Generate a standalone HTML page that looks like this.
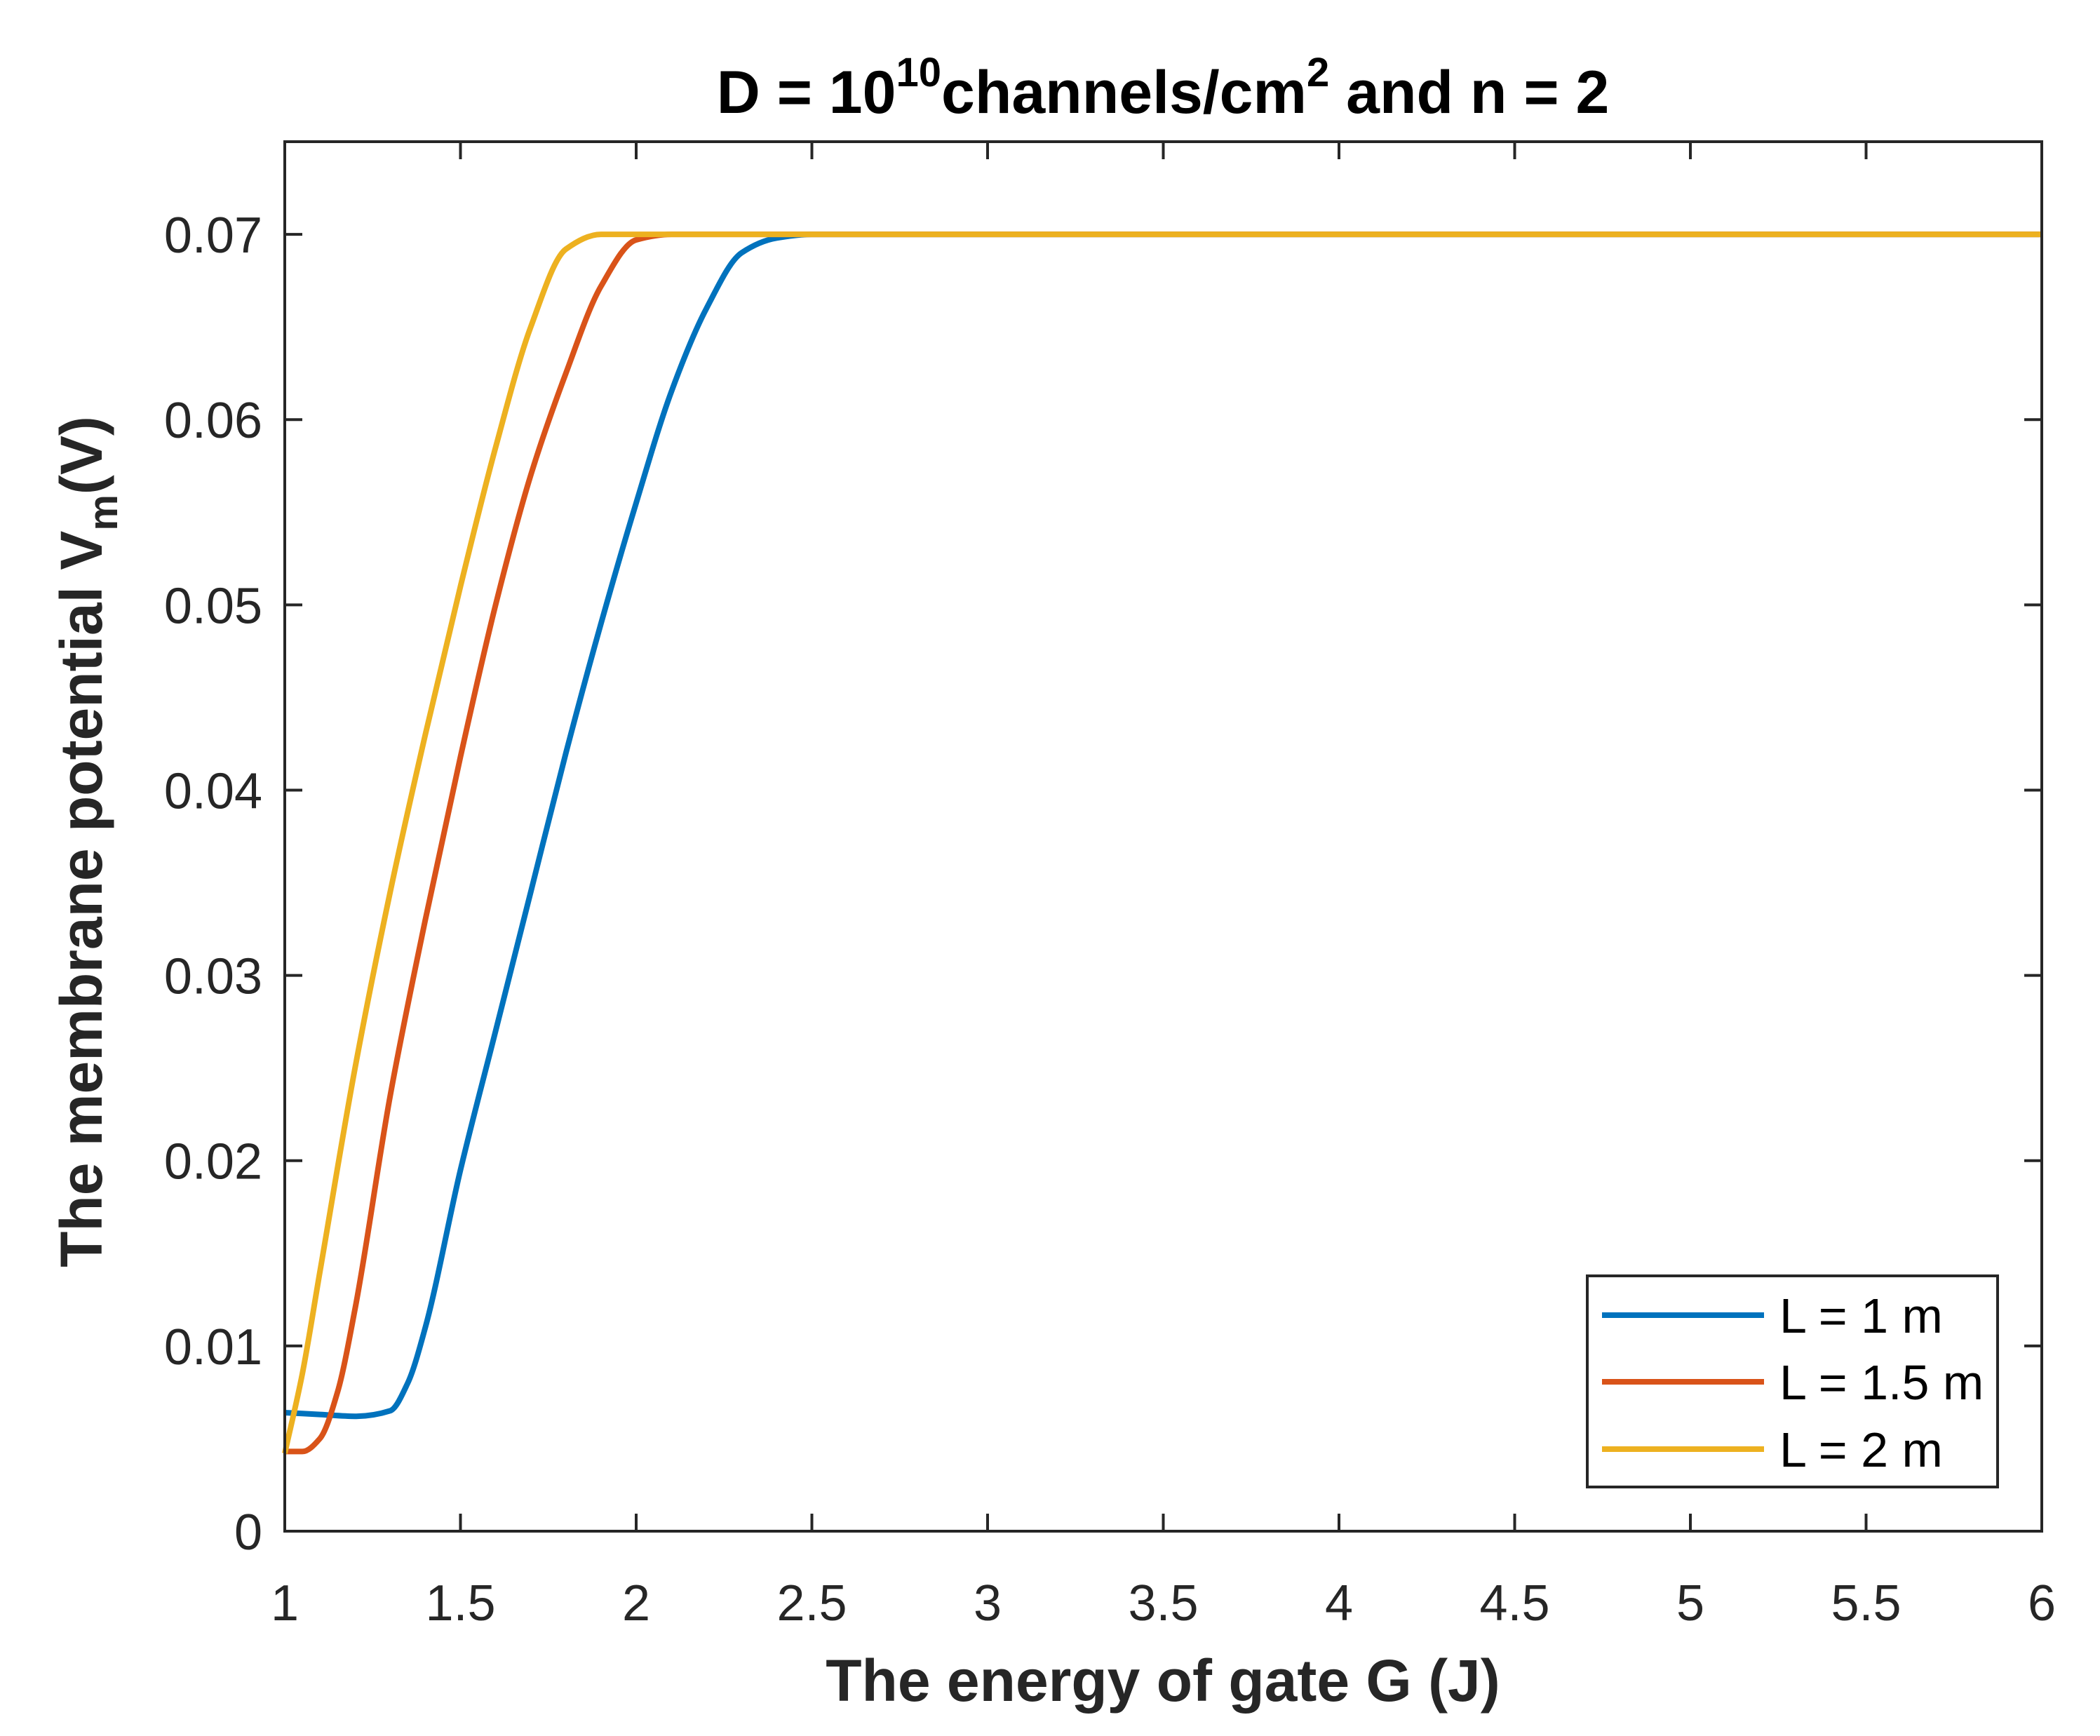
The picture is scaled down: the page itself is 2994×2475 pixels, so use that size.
<!DOCTYPE html>
<html><head><meta charset="utf-8">
<style>
html,body{margin:0;padding:0;background:#fff;}
svg{display:block;font-family:"Liberation Sans",Arial,sans-serif;}
</style></head>
<body>
<svg id="chart" width="2994" height="2475" viewBox="0 0 2994 2475" xmlns="http://www.w3.org/2000/svg">
<rect width="2994" height="2475" fill="#fff"/>
<g id="ticks"></g>
<g id="series"></g>
<rect x="406" y="202" width="2505" height="1981" fill="none" stroke="#262626" stroke-width="4"/>
<text x="1658" y="161" text-anchor="middle" font-weight="bold" font-size="86" fill="#000">D = 10<tspan dy="-38" font-size="58">10</tspan><tspan dy="38">channels/cm</tspan><tspan dy="-38" font-size="58">2</tspan><tspan dy="38"> and n = 2</tspan></text>
<text x="1658" y="2425" text-anchor="middle" font-weight="bold" font-size="84" fill="#262626">The energy of gate G (J)</text>
<text transform="translate(145,1200) rotate(-90)" text-anchor="middle" font-weight="bold" font-size="84" fill="#262626">The membrane potential V<tspan dy="22" font-size="58">m</tspan><tspan dy="-22">(V)</tspan></text>
<g>
<rect x="2263" y="1819" width="585" height="301" fill="#fff" stroke="#262626" stroke-width="4"/>
<g><line x1="2284" y1="1875" x2="2515" y2="1875" stroke="#0072BD" stroke-width="8"/><text x="2537" y="1900" font-size="70" fill="#000">L = 1 m</text></g>
<g><line x1="2284" y1="1970" x2="2515" y2="1970" stroke="#D95319" stroke-width="8"/><text x="2537" y="1995" font-size="70" fill="#000">L = 1.5 m</text></g>
<g><line x1="2284" y1="2066" x2="2515" y2="2066" stroke="#EDB120" stroke-width="8"/><text x="2537" y="2091" font-size="70" fill="#000">L = 2 m</text></g>
</g>
</svg>
<script>
const xTicks = [1,1.5,2,2.5,3,3.5,4,4.5,5,5.5,6];
const xTickLabels = ["1","1.5","2","2.5","3","3.5","4","4.5","5","5.5","6"];
const yTicks = [0,0.01,0.02,0.03,0.04,0.05,0.06,0.07];
const yTickLabels = ["0","0.01","0.02","0.03","0.04","0.05","0.06","0.07"];
const gL1 = [1.0,1.1,1.2,1.3,1.35,1.4,1.5,1.6,1.7,1.8,1.9,2.0,2.1,2.2,2.3,2.4,2.5,2.6,6.0];
const vL1 = [0.0064,0.0063,0.0062,0.0065,0.008,0.011,0.0195,0.027,0.0345,0.042,0.049,0.0555,0.0615,0.066,0.069,0.0698,0.07,0.07,0.07];
const gL15 = [1.0,1.05,1.1,1.15,1.2,1.3,1.4,1.5,1.6,1.7,1.8,1.9,2.0,2.1,6.0];
const vL15 = [0.0043,0.0043,0.005,0.0075,0.012,0.0235,0.033,0.0418,0.05,0.057,0.0625,0.0672,0.0697,0.07,0.07];
const gL2 = [1.0,1.05,1.1,1.2,1.3,1.4,1.5,1.6,1.7,1.8,1.9,2.0,6.0];
const vL2 = [0.0042,0.0085,0.0140,0.0250,0.0345,0.043,0.051,0.0585,0.065,0.0692,0.07,0.07,0.07];

const L=406,R=2911,T=202,B=2183,X0=1,X1=6,Y0=0,Y1=0.075;
function sx(v){return L+(v-X0)/(X1-X0)*(R-L);}
function sy(v){return B-(v-Y0)/(Y1-Y0)*(B-T);}
const NS="http://www.w3.org/2000/svg";
const tg=document.getElementById('ticks');
xTicks.forEach((t,i)=>{
  const x=sx(t);
  const p=document.createElementNS(NS,'path');
  p.setAttribute('d',`M${x},${B}V${B-25}M${x},${T}V${T+25}`);
  p.setAttribute('stroke','#262626');p.setAttribute('stroke-width','4');
  
  
  tg.appendChild(p);
  const tx=document.createElementNS(NS,'text');
  tx.setAttribute('x',x);tx.setAttribute('y',2310);tx.setAttribute('text-anchor','middle');
  tx.setAttribute('font-size','72');tx.setAttribute('fill','#262626');
  tx.textContent=xTickLabels[i];
  
  
  tg.appendChild(tx);
});
yTicks.forEach((t,i)=>{
  const y=sy(t);
  const p=document.createElementNS(NS,'path');
  p.setAttribute('d',`M${L},${y}H${L+25}M${R},${y}H${R-25}`);
  p.setAttribute('stroke','#262626');p.setAttribute('stroke-width','4');
  
  
  tg.appendChild(p);
  const tx=document.createElementNS(NS,'text');
  tx.setAttribute('x',374);tx.setAttribute('y',y+26);tx.setAttribute('text-anchor','end');
  tx.setAttribute('font-size','72');tx.setAttribute('fill','#262626');
  tx.textContent=yTickLabels[i];
  
  
  tg.appendChild(tx);
});
// monotone cubic (Fritsch-Carlson) in pixel space
function smoothPath(xs,ys){
  const px=xs.map(sx), py=ys.map(sy), n=px.length;
  const d=[],m=new Array(n);
  for(let i=0;i<n-1;i++) d.push((py[i+1]-py[i])/(px[i+1]-px[i]));
  m[0]=d[0]; m[n-1]=d[n-2];
  for(let i=1;i<n-1;i++){
    if(d[i-1]*d[i]<=0) m[i]=0;
    else { const h0=px[i]-px[i-1],h1=px[i+1]-px[i]; const w1=2*h1+h0,w2=h1+2*h0; m[i]=(w1+w2)/(w1/d[i-1]+w2/d[i]); }
  }
  let s=`M${px[0]},${py[0]}`;
  for(let i=0;i<n-1;i++){
    const h=(px[i+1]-px[i])/3;
    s+=`C${px[i]+h},${py[i]+m[i]*h} ${px[i+1]-h},${py[i+1]-m[i+1]*h} ${px[i+1]},${py[i+1]}`;
  }
  return s;
}
const sg=document.getElementById('series');
[[gL1,vL1,'#0072BD','series-l1'],[gL15,vL15,'#D95319','series-l1-5'],[gL2,vL2,'#EDB120','series-l2']].forEach(s=>{
  const p=document.createElementNS(NS,'path');
  p.setAttribute('d',smoothPath(s[0],s[1]));
  p.setAttribute('fill','none');p.setAttribute('stroke',s[2]);p.setAttribute('stroke-width','8');
  p.setAttribute('stroke-linejoin','round');
  
  
  sg.appendChild(p);
});
</script>
</body></html>
